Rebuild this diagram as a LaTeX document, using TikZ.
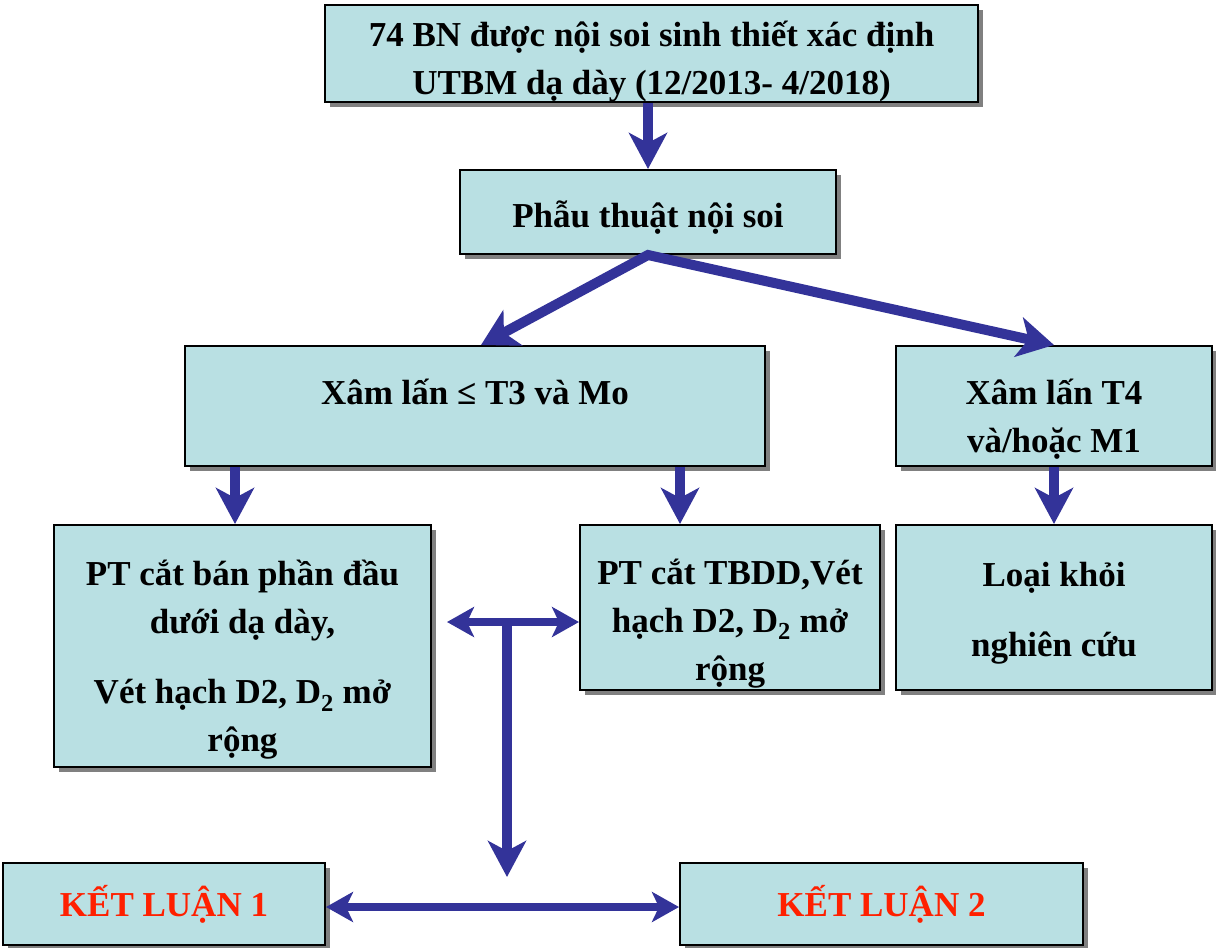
\documentclass[tikz,border=0pt]{standalone}
\usepackage{fontspec}
\setmainfont{Liberation Serif}
\usetikzlibrary{arrows.meta,shadows}
\definecolor{boxcyan}{RGB}{185,224,227}
\definecolor{arrowblue}{RGB}{51,51,153}
\definecolor{shadowgray}{RGB}{128,128,128}
\definecolor{conclred}{RGB}{255,32,0}
\begin{document}
\begin{tikzpicture}[x=1pt, y=-1pt,
  box/.style={draw=black, line width=2pt, fill=boxcyan, align=center, inner sep=0pt,
    drop shadow={shadow xshift=5pt, shadow yshift=-5pt, fill=shadowgray, opacity=1},
    font=\fontsize{35pt}{48pt}\selectfont\bfseries},
  flow/.style={draw=arrowblue, line width=10pt, -{Stealth[length=36pt, width=38pt, inset=10pt]}},
  fork/.style={draw=arrowblue, line width=10pt, line join=miter,
    {Stealth[length=36pt, width=40pt, inset=10pt]}-{Stealth[length=36pt, width=40pt, inset=10pt]}},
  flowboth/.style={draw=arrowblue, line width=8pt,
    {Stealth[length=27pt, width=30pt, inset=7pt]}-{Stealth[length=27pt, width=30pt, inset=7pt]}}]
\newcommand\flowbox[7][]{%
\node (#2) at (#3, #4) [box, minimum width=#5, minimum height=#6, #1] {#7};%
}
\useasboundingbox (0, 0) rectangle (1216, 948);

\flowbox[text height=89pt]{patients}{651.5}{53.5}{653}{97}{74 BN được nội soi sinh thiết xác định\\UTBM dạ dày (12/2013- 4/2018)}
\flowbox[text height=38pt]{surgery}{648}{212}{376}{84}{Phẫu thuật nội soi}
\flowbox[text height=93pt]{early}{475}{406}{580}{120}{Xâm lấn ≤ T3 và Mo\\~}
\flowbox[text height=99pt]{late}{1054}{406}{316}{120}{Xâm lấn T4\\và/hoặc M1}
\flowbox[text height=219pt]{subtotal}{242.5}{646}{377}{242}{PT cắt bán phần đầu\\dưới dạ dày,\\[22pt]Vét hạch D2, D\textsubscript{2} mở\\rộng}
\flowbox[text height=153pt]{total}{730}{607.5}{300}{165}{PT cắt TBDD,Vét\\hạch D2, D\textsubscript{2} mở\\rộng}
\flowbox[text height=105pt]{excluded}{1054}{607.5}{316}{165}{Loại khỏi\\[22pt]nghiên cứu}
\flowbox{concl1}{164}{904}{322}{82}{\color{conclred}KẾT LUẬN 1}
\flowbox{concl2}{881.5}{904}{403}{82}{\color{conclred}KẾT LUẬN 2}

\coordinate (cutE) at (235, 0);
\coordinate (cutF) at (680, 0);
\coordinate (tee) at (507, 622);
\coordinate (teeleft) at (447, 622);
\coordinate (stemend) at (507, 877);

\draw [flow] (patients.south -| surgery.north) -- (surgery.north);
\draw [fork] ([xshift=6pt]early.north) -- (surgery.south) -- (late.north);
\draw [flow] (early.south -| cutE) -- (subtotal.north -| cutE);
\draw [flow] (early.south -| cutF) -- (total.north -| cutF);
\draw [flow] (late.south) -- (excluded.north);

\draw [flowboth] (teeleft) -- (tee -| total.west);
\draw [flow] (tee) -- (stemend);
\draw [flowboth] ([yshift=-3pt]concl1.east) -- ([yshift=-3pt]concl2.west);
\end{tikzpicture}
\end{document}
